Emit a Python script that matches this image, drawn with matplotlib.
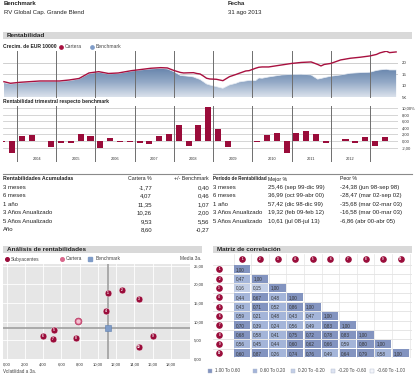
import numpy as np
import matplotlib
matplotlib.use('Agg')
import matplotlib.pyplot as plt
from matplotlib.colors import LinearSegmentedColormap
from matplotlib.patches import Rectangle

plt.rcParams['font.family'] = ['Liberation Sans Narrow', 'Liberation Sans', 'DejaVu Sans']

# ---- data ----
growth_dates = ['2003-08', '2003-10', '2004-01', '2004-07', '2005-01', '2005-04', '2005-07', '2005-10',
                '2006-01', '2006-04', '2006-07', '2006-11', '2007-02', '2007-05', '2007-08', '2007-10',
                '2007-12', '2008-02', '2008-03', '2008-05', '2008-06', '2008-07', '2008-08', '2008-09',
                '2008-10', '2008-11', '2009-01', '2009-03', '2009-05', '2009-07', '2009-08', '2009-10',
                '2009-11', '2010-01', '2010-02', '2010-03', '2010-05', '2010-09', '2010-12', '2011-03',
                '2011-06', '2011-08', '2011-09', '2011-10', '2011-12', '2012-03', '2012-06', '2012-09',
                '2012-12', '2013-02', '2013-03', '2013-05', '2013-06', '2013-08']
cartera = [11.87, 11.17, 11.61, 12.17, 12.17, 12.61, 13.26, 15.65,
           16.22, 15.43, 15.65, 16.65, 17.17, 17.70, 17.96, 17.83,
           16.74, 15.87, 15.65, 15.74, 15.78, 15.43, 15.22, 14.35,
           13.35, 13.04, 12.91, 12.30, 14.04, 15.00, 15.52, 16.52,
           16.65, 17.70, 18.13, 18.26, 18.26, 19.13, 19.78, 20.22,
           20.43, 19.35, 18.70, 19.35, 19.78, 21.30, 22.04, 22.48,
           23.04, 23.70, 24.35, 25.10, 24.48, 24.78]
benchmark = [11.43, 10.87, 11.30, 11.87, 11.96, 12.30, 13.04, 15.35,
             15.96, 15.22, 15.43, 16.43, 16.96, 17.39, 17.61, 17.39,
             16.22, 14.57, 14.43, 14.13, 13.91, 13.35, 12.83, 11.87,
             10.87, 10.43, 9.70, 9.00, 10.43, 11.17, 11.74, 12.17,
             12.39, 12.30, 13.48, 13.35, 13.91, 14.78, 15.00, 15.09,
             14.78, 12.96, 13.26, 13.61, 14.22, 14.78, 15.52, 15.78,
             15.96, 16.74, 16.96, 17.26, 16.96, 16.96]

quarters = ['2003-Q3', '2003-Q4',
            '2004-Q1', '2004-Q2', '2004-Q3', '2004-Q4', '2005-Q1', '2005-Q2', '2005-Q3', '2005-Q4',
            '2006-Q1', '2006-Q2', '2006-Q3', '2006-Q4', '2007-Q1', '2007-Q2', '2007-Q3', '2007-Q4',
            '2008-Q1', '2008-Q2', '2008-Q3', '2008-Q4', '2009-Q1', '2009-Q2', '2009-Q3', '2009-Q4',
            '2010-Q1', '2010-Q2', '2010-Q3', '2010-Q4', '2011-Q1', '2011-Q2', '2011-Q3', '2011-Q4',
            '2012-Q1', '2012-Q2', '2012-Q3', '2012-Q4', '2013-Q1', '2013-Q2']
rel_quarter = [-0.4, -3.7,
               1.5, 1.9, 0.1, -1.8, -0.5, -0.7, 2.3, 1.6,
               -2.2, 1.0, -0.4, -0.4, -0.5, -1.0, 1.5, 2.3,
               5.0, -1.6, 4.8, 10.4, 3.8, -1.9, 0.1, 0.0,
               -0.3, 1.8, 2.5, -3.5, 2.6, 3.0, 2.2, -0.7,
               0.05, 0.6, -0.6, 1.2, -1.5, 1.2]
years = [2004, 2005, 2006, 2007, 2008, 2009, 2010, 2011, 2012]

acc_labels = ['3 meses', '6 meses', '1 año', '3 Años Anualizado', '5 Años Anualizado', 'Año']
acc_cartera = [-1.77, 4.07, 11.35, 10.26, 9.53, 8.60]
acc_bench = [0.40, 0.46, 1.07, 2.00, 5.56, -0.27]

per_labels = ['3 meses', '6 meses', '1 año', '3 Años Anualizado', '5 Años Anualizado']
per_best = ['25,46 (sep 99-dic 99)', '36,99 (oct 99-abr 00)', '57,42 (dic 98-dic 99)',
            '19,32 (feb 09-feb 12)', '10,61 (jul 08-jul 13)']
per_worst = ['-24,38 (jun 98-sep 98)', '-28,47 (mar 02-sep 02)', '-35,68 (mar 02-mar 03)',
             '-16,58 (mar 00-mar 03)', '-6,86 (abr 00-abr 05)']

sub_labels = ['1', '2', '3', '4', '5', '6', '7', '8', '9', '10']
sub_vol = [11.1, 12.6, 14.5, 10.9, 5.2, 4.0, 5.1, 7.6, 16.0, 14.5]
sub_ret = [17.7, 18.5, 16.1, 12.9, 7.8, 6.2, 5.4, 5.6, 6.2, 3.2]
cart_vol, cart_ret = 7.8, 10.26
bench_vol, bench_ret = 11.1, 8.26

corr = [
    [1.00],
    [0.47, 1.00],
    [0.16, 0.15, 1.00],
    [0.44, 0.67, 0.48, 1.00],
    [0.43, 0.71, 0.52, 0.86, 1.00],
    [0.59, 0.21, 0.48, 0.43, 0.47, 1.00],
    [0.70, 0.39, 0.24, 0.56, 0.49, 0.83, 1.00],
    [0.68, 0.58, 0.41, 0.75, 0.72, 0.78, 0.83, 1.00],
    [0.56, 0.45, 0.44, 0.60, 0.62, 0.66, 0.59, 0.80, 1.00],
    [0.60, 0.87, 0.26, 0.74, 0.76, 0.49, 0.64, 0.79, 0.58, 1.00],
]
corr_bins = ['1.00 To 0.60', '0.60 To 0.20', '0.20 To -0.20', '-0.20 To -0.60', '-0.60 To -1.00']
corr_cols = ['#8394c0', '#a4b5d9', '#c3cfe7', '#dde4f2', '#f3f5fa']

RED = '#a8103f'
BAR = '#9a0c3a'
BLUE = '#7f9cc8'
DARK = '#222222'

W, H = 420, 379
fig = plt.figure(figsize=(W / 100, H / 100), dpi=100)
fig.patch.set_facecolor('white')


def add_ax(x0, y0, x1, y1):
    return fig.add_axes([x0 / W, 1 - y1 / H, (x1 - x0) / W, (y1 - y0) / H])


def txt(x, y, s, size=4.3, **kw):
    kw.setdefault('va', 'center')
    return fig.text(x / W, 1 - y / H, s, fontsize=size, color=kw.pop('color', DARK), **kw)


def band(x0, x1, y0, y1, title):
    fig.patches.append(Rectangle((x0 / W, 1 - y1 / H), (x1 - x0) / W, (y1 - y0) / H,
                                 transform=fig.transFigure, facecolor='#d9d9d9', edgecolor='none'))
    txt(x0 + 4, (y0 + y1) / 2, title, size=4.6, weight='bold')


def comma(v):
    return f'{v:.2f}'.replace('.', ',')


def to_year(s):
    y, m = s.split('-')
    return int(y) + int(m) / 12


def q_to_year(s):
    y, q = s.split('-Q')
    return int(y) + (int(q) - 0.5) / 4


# ---- header ----
txt(4, 3.5, 'Benchmark', size=4.3, weight='bold')
txt(4, 12.3, 'RV Global Cap. Grande Blend', size=4.3)
txt(228, 3.5, 'Fecha', size=4.3, weight='bold')
txt(228, 12.3, '31 ago 2013', size=4.3)

band(3, 412, 31.7, 38.5, 'Rentabilidad')

# ---- growth chart ----
txt(3, 46.7, 'Crecim. de EUR 10000', size=3.6, weight='bold')
fig.lines.append(plt.Line2D([61 / W], [1 - 46.7 / H], marker='o', ms=2.4, color=RED,
                            transform=fig.transFigure))
txt(65, 46.7, 'Cartera', size=3.6, color='#444444')
fig.lines.append(plt.Line2D([92 / W], [1 - 46.7 / H], marker='o', ms=2.4, color=BLUE,
                            transform=fig.transFigure))
txt(96, 46.7, 'Benchmark', size=3.6, color='#444444')

t = np.array([to_year(d) for d in growth_dates])
x_lo = 2004 + (3 - 17) / 39.22
x_hi = 2004 + (398 - 17) / 39.22

ax1 = add_ax(3, 50.5, 398, 97.5)
ax1.set_xlim(x_lo, x_hi)
ax1.set_ylim(5, 25.4)
for v in [15, 20]:
    ax1.axhline(v, color='#c8c8c8', lw=0.6, zorder=0)
poly = ax1.fill_between(t, benchmark, 5, color='none', lw=0)
cmap = LinearSegmentedColormap.from_list('g', ['#dbe2ec', '#93a9c6', '#6482aa'])
grad = np.linspace(0, 1, 256).reshape(-1, 1)
im = ax1.imshow(grad, extent=[t[0], t[-1], 5, max(benchmark)], aspect='auto', origin='lower',
                cmap=cmap, zorder=1)
im.set_clip_path(poly.get_paths()[0], transform=ax1.transData)
ax1.plot(t, benchmark, color='#e8edf4', lw=0.5, zorder=2)
ax1.plot(t, cartera, color=RED, lw=1.0, zorder=4)
for y in years + [2013]:
    ax1.axvline(y, color='#6e6e6e', lw=0.7, zorder=3)
ax1.set_xlim(x_lo, x_hi)
ax1.set_ylim(5, 25.4)
ax1.yaxis.tick_right()
ax1.set_yticks([5, 10, 15, 20])
ax1.set_yticklabels(['5K', '10', '15', '20'])
ax1.tick_params(axis='y', length=0, labelsize=3.2, pad=2.5, labelcolor='#333333')
ax1.set_xticks([])
for s in ax1.spines.values():
    s.set_visible(False)

# ---- quarterly relative bars ----
txt(3, 102, 'Rentabilidad trimestral respecto benchmark', size=3.6, weight='bold')
qt = np.array([q_to_year(q) for q in quarters])
ax2 = add_ax(3, 106, 398, 162)
for v in range(-2, 12, 2):
    ax2.axhline(v, color='#cfcfcf', lw=0.6, zorder=0)
for y in years + [2013]:
    ax2.axvline(y, color='#6e6e6e', lw=0.7, zorder=1)
ax2.bar(qt, rel_quarter, width=0.155, color=BAR, zorder=2)
for y in years:
    ax2.text(y + 0.5, -5.45, str(y), fontsize=2.8, ha='center', va='center', color='#333333')
ax2.set_xlim(x_lo, x_hi)
ax2.set_ylim(-6.3, 10.6)
ax2.yaxis.tick_right()
ax2.set_yticks(list(range(-2, 12, 2)))
ax2.set_yticklabels([comma(v) + ('%' if v == 10 else '') for v in range(-2, 12, 2)])
ax2.tick_params(axis='y', length=0, labelsize=3.0, pad=2.5, labelcolor='#333333')
ax2.set_xticks([])
for s in ax2.spines.values():
    s.set_visible(False)

# ---- tables ----
fig.lines.append(plt.Line2D([3 / W, 200 / W], [1 - 173.5 / H] * 2, color='#8a8a8a', lw=0.8,
                            transform=fig.transFigure))
fig.lines.append(plt.Line2D([213 / W, 412 / W], [1 - 173.5 / H] * 2, color='#8a8a8a', lw=0.8,
                            transform=fig.transFigure))
txt(3, 179, 'Rentabilidades Acumuladas', size=3.8, weight='bold')
txt(152, 179, 'Cartera %', size=3.8, ha='right')
txt(209, 179, '+/- Benchmark', size=3.8, ha='right')
for i, lab in enumerate(acc_labels):
    yy = 187.3 + 8.5 * i
    txt(3, yy, lab, size=4.3)
    txt(152, yy, comma(acc_cartera[i]), size=4.3, ha='right')
    txt(209, yy, comma(acc_bench[i]), size=4.3, ha='right')

txt(213, 179, 'Período de Rentabilidad', size=3.3, weight='bold')
txt(268, 179, 'Mejor %', size=3.8)
txt(340, 179, 'Peor %', size=3.8)
for i, lab in enumerate(per_labels):
    yy = 187.3 + 8.5 * i
    txt(213, yy, lab, size=4.3)
    txt(268, yy, per_best[i], size=4.3)
    txt(340, yy, per_worst[i], size=4.3)

# ---- scatter ----
band(3, 202, 245.7, 253.3, 'Análisis de rentabilidades')
fig.lines.append(plt.Line2D([7 / W], [1 - 259 / H], marker='o', ms=2.6, color=BAR,
                            transform=fig.transFigure))
txt(11, 259, 'Subyacentes', size=3.5, color='#444444')
fig.lines.append(plt.Line2D([62 / W], [1 - 259 / H], marker='o', ms=2.6, color='#d9688c',
                            transform=fig.transFigure))
txt(66, 259, 'Cartera', size=3.5, color='#444444')
fig.lines.append(plt.Line2D([90 / W], [1 - 259 / H], marker='s', ms=2.6, color=BLUE,
                            transform=fig.transFigure))
txt(96, 259, 'Benchmark', size=3.5, color='#444444')
txt(201, 259, 'Media 3a.', size=3.5, ha='right', color='#444444')

ax3 = add_ax(3, 264, 190, 359)
ax3.set_facecolor('#e6e6e6')
ax3.set_xlim(-0.4, 20.1)
ax3.set_ylim(0, 25.5)
ax3.set_xticks(list(range(0, 20, 2)))
ax3.set_xticklabels([comma(v) for v in range(0, 20, 2)])
ax3.set_yticks(list(range(0, 30, 5)))
ax3.set_yticklabels([comma(v) for v in range(0, 30, 5)])
ax3.yaxis.tick_right()
ax3.grid(color='white', lw=0.6)
ax3.set_axisbelow(True)
ax3.tick_params(length=0, labelsize=3.0, pad=2.5, labelcolor='#333333')
for s in ax3.spines.values():
    s.set_visible(False)
ax3.axvline(bench_vol, color='#a0a0a0', lw=1.2, zorder=1)
ax3.axhline(bench_ret, color='#a0a0a0', lw=1.2, zorder=1)
ax3.plot(bench_vol, bench_ret, marker='s', ms=4.5, color=BLUE, mec='#5f7fae', mew=0.4, zorder=3)
ax3.scatter(sub_vol, sub_ret, s=24, color=BAR, edgecolor='white', linewidth=0.3, zorder=4)
for xv, yv, lab in zip(sub_vol, sub_ret, sub_labels):
    ax3.text(xv, yv, lab, fontsize=2.3, color='white', ha='center', va='center',
             weight='bold', zorder=5)
ax3.scatter([cart_vol], [cart_ret], s=24, color='#d9688c', edgecolor='#b52a57', linewidth=0.5,
            zorder=4)
ax3.scatter([cart_vol], [cart_ret], s=4, color='#f3c3d3', zorder=5)
txt(3, 371.7, 'Volatilidad a 3a.', size=3.3, color='#444444')

# ---- correlation matrix ----
band(213, 412, 245.7, 253.3, 'Matriz de correlación')
ax4 = add_ax(213, 254, 412, 358)
ax4.set_xlim(-1.165, 10.14)
ax4.set_ylim(10, -1.14)
ax4.axis('off')
n = len(corr)


def cell_color(v):
    if v >= 0.6:
        return corr_cols[0]
    if v >= 0.2:
        return corr_cols[1]
    if v >= -0.2:
        return corr_cols[2]
    if v >= -0.6:
        return corr_cols[3]
    return corr_cols[4]


for r in range(n + 1):
    ax4.plot([-1.165, 10.14], [r, r], color='#dcdcdc', lw=0.5, zorder=1)
for c in range(n + 1):
    ax4.plot([c, c], [-1.14, 10], color='#e4e4e4', lw=0.5, zorder=1)
for i, row in enumerate(corr):
    for j, v in enumerate(row):
        ax4.add_patch(Rectangle((j + 0.04, i + 0.06), 0.92, 0.88, facecolor=cell_color(v),
                                edgecolor='none', zorder=2))
        ax4.text(j + 0.12, i + 0.5, comma(v), fontsize=3.3, ha='left', va='center',
                 color='#333333', zorder=3)
for k in range(n):
    ax4.scatter([k + 0.5], [-0.6], s=14, color=BAR, zorder=3)
    ax4.text(k + 0.5, -0.6, str(k + 1), fontsize=2.1, color='white', ha='center',
             va='center', weight='bold', zorder=4)
    ax4.scatter([-0.81], [k + 0.5], s=14, color=BAR, zorder=3, clip_on=False)
    ax4.text(-0.81, k + 0.5, str(k + 1), fontsize=2.1, color='white', ha='center',
             va='center', weight='bold', zorder=4)

# legend of matrix
leg_x = [210, 255, 293, 333, 372]
for lx, lab, col in zip(leg_x, corr_bins, corr_cols):
    fig.patches.append(Rectangle(((lx - 2) / W, 1 - 373 / H), 4 / W, 4 / H,
                                 transform=fig.transFigure, facecolor=col,
                                 edgecolor='#b0b8cc', lw=0.3))
    txt(lx + 5, 371, lab, size=3.3, color='#444444')

fig.savefig('out.png', dpi=100)
